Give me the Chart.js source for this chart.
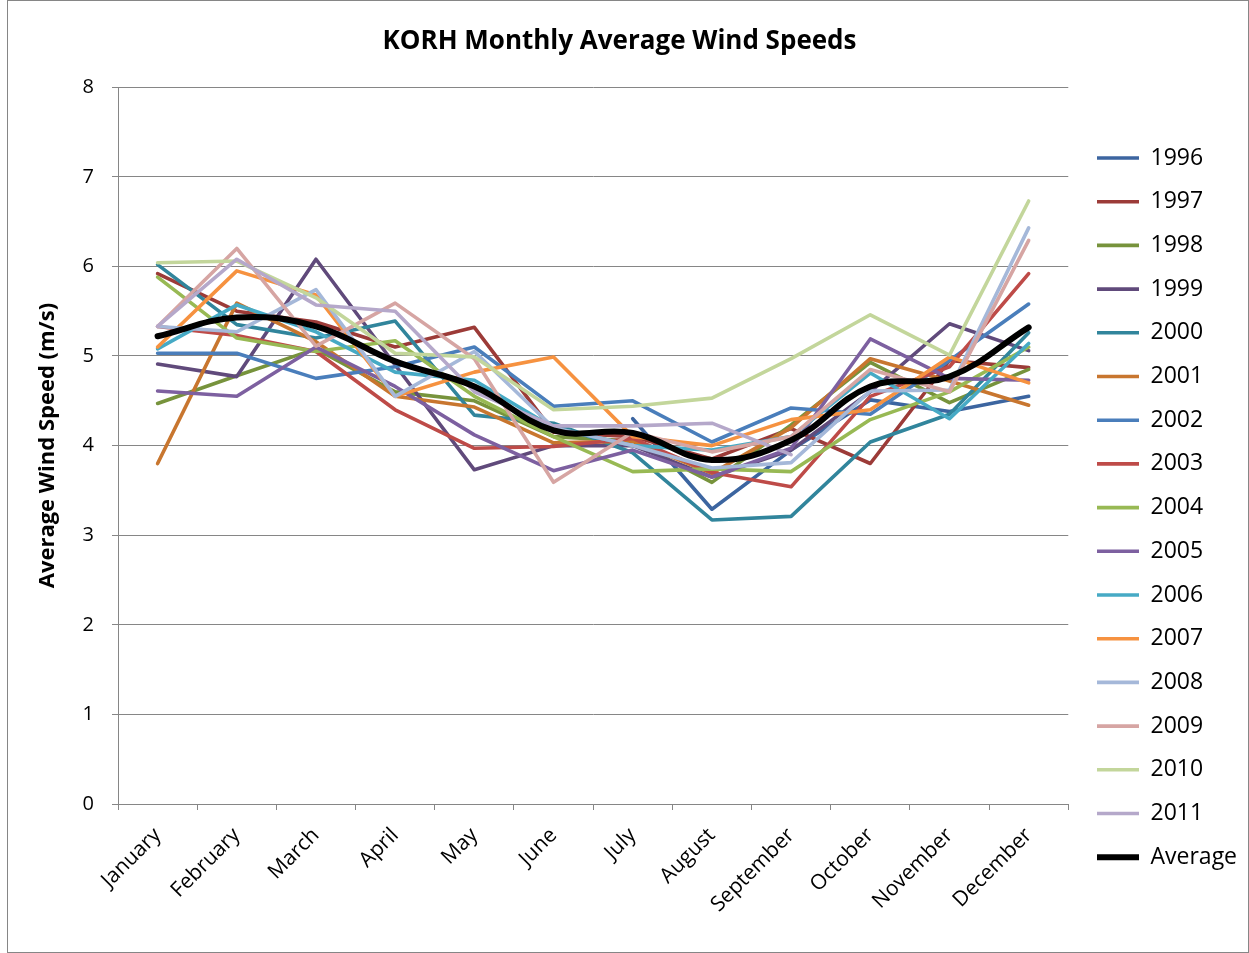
<!DOCTYPE html>
<html>
<head>
<meta charset="utf-8">
<script src="https://cdn.jsdelivr.net/npm/chart.js@4/dist/chart.umd.min.js"></script>
<style>
  html, body { margin: 0; padding: 0; background: #fff; }
  #wrap { width: 1249px; height: 953px; position: relative; }
</style>
</head>
<body>
<div id="wrap"><canvas id="c" width="1249" height="953"></canvas></div>
<script>
const months = ["January","February","March","April","May","June","July","August","September","October","November","December"];
const yTicks = [0,1,2,3,4,5,6,7,8];

const y1996 = [null,null,null,null,null,null,4.30,3.29,3.95,4.51,4.38,4.55];
const y1997 = [5.92,5.50,5.38,5.10,5.32,4.15,4.10,3.85,4.19,3.80,4.95,4.87];
const y1998 = [4.47,4.78,5.08,4.60,4.50,4.10,4.05,3.59,4.23,4.93,4.48,4.85];
const y1999 = [4.91,4.77,6.08,4.90,3.73,4.00,4.00,3.65,3.95,4.60,5.36,5.06];
const y2000 = [6.02,5.35,5.20,5.39,4.34,4.25,3.92,3.17,3.21,4.04,4.35,5.26];
const y2001 = [3.80,5.59,5.16,4.55,4.43,4.03,4.05,3.69,4.20,4.97,4.72,4.45];
const y2002 = [5.03,5.03,4.75,4.88,5.10,4.44,4.50,4.04,4.42,4.35,4.95,5.58];
const y2003 = [5.33,5.23,5.05,4.40,3.97,3.99,4.08,3.70,3.54,4.55,4.88,5.92];
const y2004 = [5.88,5.20,5.05,5.17,4.55,4.10,3.71,3.74,3.71,4.29,4.60,5.10];
const y2005 = [4.61,4.55,5.10,4.66,4.12,3.72,3.95,3.65,3.97,5.19,4.75,4.73];
const y2006 = [5.08,5.57,5.27,4.82,4.73,4.20,4.00,3.95,4.10,4.81,4.30,5.14];
const y2007 = [5.10,5.95,5.68,4.55,4.82,4.99,4.10,4.00,4.29,4.40,4.99,4.70];
const y2008 = [5.33,5.27,5.74,4.55,5.05,4.20,4.00,3.75,3.81,4.61,4.62,6.43];
const y2009 = [5.33,6.20,5.11,5.59,4.97,3.59,4.15,3.93,4.10,4.85,4.60,6.29];
const y2010 = [6.04,6.06,5.65,5.03,4.99,4.40,4.44,4.53,4.97,5.46,5.01,6.73];
const y2011 = [5.33,6.08,5.57,5.50,4.60,4.22,4.22,4.25,3.90,null,null,null];
const average = [5.22,5.43,5.33,4.94,4.66,4.17,4.14,3.84,4.06,4.66,4.77,5.32];

const seriesNames = ["1996","1997","1998","1999","2000","2001","2002","2003","2004","2005","2006","2007","2008","2009","2010","2011","Average"];
const seriesValues = [y1996,y1997,y1998,y1999,y2000,y2001,y2002,y2003,y2004,y2005,y2006,y2007,y2008,y2009,y2010,y2011,average];
const seriesColors = ["#3C65A0","#9C3B38","#77933C","#604A7B","#31859C","#C8762F","#4A7EBB","#BE4B48","#98B954","#7D60A0","#46AAC5","#F69240","#A5B8D9","#D6A5A3","#C3D69B","#B5A8CA","#000000"];

const FONT = "'Open Sans', 'DejaVu Sans', sans-serif";
const LEG_FONT = 23;
const LEG_PAD = 20.7;

const datasets = seriesNames.map((name, i) => {
  const isAvg = name === "Average";
  return {
    label: name,
    data: seriesValues[i],
    borderColor: seriesColors[i],
    backgroundColor: seriesColors[i],
    borderWidth: isAvg ? 6 : 3.6,
    pointRadius: 0,
    pointHoverRadius: 0,
    tension: isAvg ? 0.4 : 0,
    spanGaps: false,
    borderJoinStyle: 'round',
    borderCapStyle: 'round',
    order: seriesNames.length - i
  };
});

const frame = {
  id: 'frame',
  beforeDraw(chart) {
    const ctx = chart.ctx;
    ctx.save();
    ctx.fillStyle = '#fff';
    ctx.fillRect(0, 0, chart.width, chart.height);
    ctx.strokeStyle = '#868686';
    ctx.lineWidth = 1;
    ctx.strokeRect(7.5, 0.5, chart.width - 8, chart.height - 1);
    ctx.restore();
  }
};

// place the legend block where the reference has it (first marker at x=1097, first row centred at y=157)
const legendShift = {
  id: 'legendShift',
  afterLayout(chart) {
    const lg = chart.legend;
    if (!lg || !lg.columnSizes || !lg.columnSizes.length) return;
    const markerLeft = lg.left + LEG_PAD;
    const y0 = (lg.top + LEG_PAD + lg.bottom - lg.columnSizes[0].height) / 2;
    const rowCenter = y0 + LEG_FONT / 2;
    const dx = 1097 - markerLeft;
    const dy = 158 - rowCenter;
    lg.left += dx; lg.right += dx;
    lg.top += dy; lg.bottom += dy;
  }
};

new Chart(document.getElementById('c'), {
  type: 'line',
  data: { labels: months, datasets },
  plugins: [frame, legendShift],
  options: {
    responsive: false,
    animation: false,
    events: [],
    layout: { padding: { left: 0, right: 10, top: 0, bottom: 0 } },
    plugins: {
      title: {
        display: true,
        text: 'KORH Monthly Average Wind Speeds',
        color: '#000',
        font: { family: FONT, size: 26, weight: 'bold' },
        padding: { top: 26, bottom: 30 }
      },
      legend: {
        position: 'right',
        labels: {
          usePointStyle: true,
          pointStyle: 'line',
          pointStyleWidth: 42,
          color: '#000',
          font: { family: FONT, size: LEG_FONT },
          padding: LEG_PAD,
          sort: (a, b) => a.datasetIndex - b.datasetIndex
        }
      },
      tooltip: { enabled: false }
    },
    scales: {
      x: {
        offset: true,
        grid: { display: true, drawOnChartArea: false, drawTicks: true, tickLength: 6, color: '#868686', offset: true },
        border: { display: true, color: '#868686', width: 1 },
        ticks: { color: '#000', font: { family: FONT, size: 21 }, minRotation: 45, maxRotation: 45, padding: 13 },
        afterFit(scale) { scale.height = 149; }
      },
      y: {
        min: 0, max: 8,
        afterBuildTicks(scale) { scale.ticks = yTicks.map(v => ({ value: v })); },
        grid: { color: '#868686', drawTicks: true, tickLength: 6 },
        border: { display: true, color: '#868686', width: 1 },
        ticks: { color: '#000', font: { family: FONT, size: 20 }, padding: 18 },
        title: { display: true, text: 'Average Wind Speed (m/s)', color: '#000', font: { family: FONT, size: 22, weight: 'bold' }, padding: { top: 35, bottom: 4 } },
        afterFit(scale) { scale.width = 118; }
      }
    }
  }
});
</script>
</body>
</html>
